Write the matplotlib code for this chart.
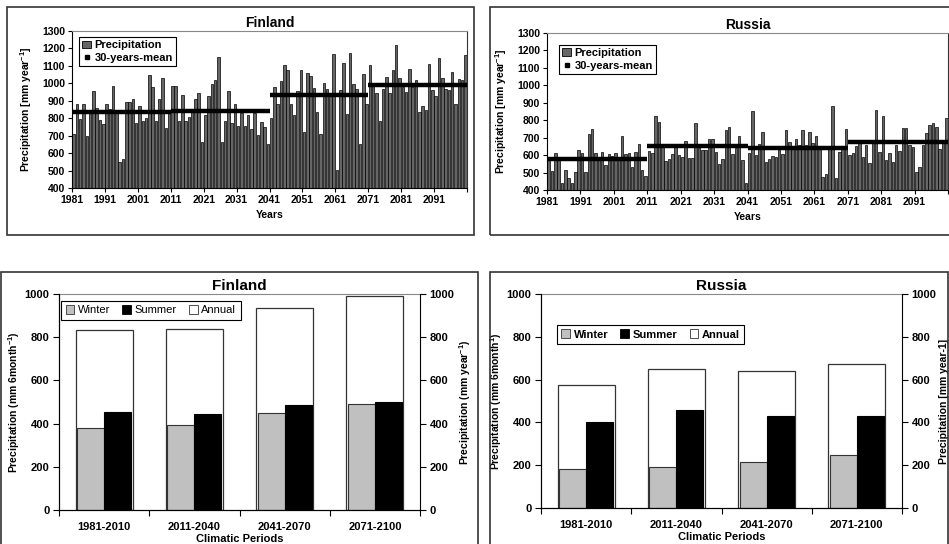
import matplotlib
matplotlib.use("Agg")
import matplotlib.pyplot as plt
import numpy as np
from matplotlib.lines import Line2D
from matplotlib.patches import Patch, Rectangle

plt.rcParams["font.family"] = ["Liberation Sans", "DejaVu Sans"]
plt.rcParams["mathtext.fontset"] = "custom"
plt.rcParams["mathtext.rm"] = "Liberation Sans:bold"
plt.rcParams["mathtext.bf"] = "Liberation Sans:bold"
plt.rcParams["mathtext.default"] = "rm"

years = np.arange(1981, 2101)
period_labels = ["1981-2010", "2011-2040", "2041-2070", "2071-2100"]
period_starts = [1981, 2011, 2041, 2071]

finland_precip = [
    710, 883, 793, 883, 700, 830, 958, 859, 792, 768,
    882, 853, 985, 830, 550, 567, 893, 893, 912, 772,
    872, 784, 801, 1047, 978, 782, 912, 1031, 744, 845,
    987, 983, 786, 932, 786, 805, 840, 910, 945, 663,
    820, 930, 997, 1018, 1152, 661, 786, 958, 772, 882,
    755, 830, 755, 820, 740, 830, 705, 780, 750, 650,
    802, 978, 880, 1013, 1107, 1074, 883, 816, 955, 1074,
    722, 1057, 1041, 974, 835, 710, 1003, 965, 927, 1170,
    505, 959, 1118, 822, 1176, 994, 969, 655, 1051, 883,
    1103, 988, 946, 783, 965, 1038, 946, 1074, 1218, 1032,
    978, 951, 1085, 980, 1017, 837, 869, 846, 1112, 959,
    927, 1146, 1032, 969, 959, 1067, 883, 1022, 1020, 1165,
]

russia_precip = [
    590, 510, 614, 575, 442, 515, 467, 438, 503, 630,
    614, 505, 720, 748, 614, 590, 620, 544, 607, 597,
    614, 575, 712, 607, 610, 530, 620, 662, 515, 480,
    626, 610, 827, 789, 664, 565, 578, 605, 665, 600,
    590, 680, 583, 585, 783, 640, 628, 628, 695, 690,
    620, 547, 576, 745, 764, 605, 640, 707, 572, 442,
    614, 854, 601, 662, 731, 559, 578, 597, 591, 630,
    605, 745, 674, 640, 691, 659, 745, 659, 731, 668,
    707, 645, 477, 492, 640, 883, 471, 620, 640, 749,
    601, 610, 650, 680, 591, 660, 553, 670, 860, 617,
    822, 572, 614, 563, 660, 624, 758, 758, 660, 649,
    505, 534, 660, 729, 774, 783, 760, 636, 680, 812,
]

finland_winter = [380, 395, 447, 490]
finland_summer = [455, 445, 487, 500]
finland_annual = [835, 840, 935, 990]

russia_winter = [182, 191, 213, 247]
russia_summer = [400, 459, 431, 428]
russia_annual = [575, 650, 642, 675]

fig = plt.figure(figsize=(9.49, 5.44), dpi=100)

# panel frames (figure pixels: x0, y0 from top, x1, y1)
for x0, y0, x1, y1 in [(7, 7, 474, 235), (490, 7, 952, 235), (1, 272, 478, 548), (490, 272, 948, 548)]:
    fig.patches.append(Rectangle((x0 / 949, 1 - y1 / 544), (x1 - x0) / 949, (y1 - y0) / 544,
                                 transform=fig.transFigure, fill=False, edgecolor="#333333",
                                 linewidth=1.2, zorder=0))


def yearly_panel(rect, title, values, means, legend_anchor):
    ax = fig.add_axes(rect)
    ax.bar(years + 0.5, values, width=0.75, color="#666666", edgecolor="black", linewidth=0.5)
    for start, m in zip(period_starts, means):
        ax.hlines(m, start, start + 30, color="black", linewidth=3.2, zorder=3)
    ax.set_xlim(1981, 2101)
    ax.set_ylim(400, 1300)
    ax.set_yticks(range(400, 1301, 100))
    ax.set_xticks(range(1981, 2102, 10))
    ax.set_xticklabels([str(y) for y in range(1981, 2092, 10)] + [""])
    ax.tick_params(labelsize=7.5, length=3, width=0.8, pad=2)
    for lab in ax.get_xticklabels() + ax.get_yticklabels():
        lab.set_fontweight("bold")
    ax.spines["top"].set_color("#888888")
    ax.spines["right"].set_color("#333333")
    ax.set_title(title, fontsize=10, fontweight="bold", pad=3)
    ax.set_xlabel("Years", fontsize=7.5, fontweight="bold", labelpad=4)
    ax.set_ylabel("Precipitation [mm year$^{-1}$]", fontsize=7.5, fontweight="bold", labelpad=6)
    handles = [Patch(facecolor="#666666", edgecolor="black", linewidth=0.6),
               Line2D([], [], color="black", marker="s", markersize=3.5, linestyle="none")]
    leg = ax.legend(handles, ["Precipitation", "30-years-mean"], loc="upper left",
                    bbox_to_anchor=legend_anchor, borderaxespad=0, fancybox=False,
                    edgecolor="black", framealpha=1, prop={"size": 8, "weight": "bold"},
                    handlelength=0.8, handletextpad=0.3, borderpad=0.3, labelspacing=0.25)
    leg.get_frame().set_linewidth(0.8)
    return ax


def period_panel(rect, title, winter, summer, annual, left_label, right_label, legend_anchor, bold_legend):
    ax = fig.add_axes(rect)
    x = np.arange(len(period_labels))
    ax.bar(x, annual, width=0.63, color="white", edgecolor="#333333", linewidth=0.9, zorder=1)
    ax.bar(x - 0.15, winter, width=0.3, color="#c0c0c0", edgecolor="#333333", linewidth=0.8, zorder=2)
    ax.bar(x + 0.15, summer, width=0.3, color="black", edgecolor="black", linewidth=0.8, zorder=2)
    ax.set_xlim(-0.5, 3.5)
    ax.set_ylim(0, 1000)
    ax.set_yticks(range(0, 1001, 200))
    ax.set_xticks(x)
    ax.set_xticklabels(period_labels)
    ax.set_xticks(np.arange(-0.5, 3.6, 1), minor=True)
    ax.tick_params(axis="x", which="major", length=0, labelsize=8, pad=9)
    ax.tick_params(axis="x", which="minor", length=4, width=0.8)
    ax.tick_params(axis="y", labelsize=8, length=4, width=0.8, pad=3)
    for lab in ax.get_xticklabels() + ax.get_yticklabels():
        lab.set_fontweight("bold")
    ax.spines["top"].set_color("#888888")
    ax.spines["right"].set_visible(False)
    ax.set_title(title, fontsize=11, fontweight="bold", pad=3)
    ax.set_xlabel("Climatic Periods", fontsize=8, fontweight="bold", labelpad=1)
    ax.set_ylabel(left_label, fontsize=7.5, fontweight="bold", labelpad=2)

    ax2 = ax.twinx()
    ax2.set_ylim(0, 1000)
    ax2.set_yticks(range(0, 1001, 200))
    ax2.tick_params(axis="y", labelsize=8, length=4, width=0.8, pad=3)
    for lab in ax2.get_yticklabels():
        lab.set_fontweight("bold")
    ax2.spines["top"].set_visible(False)
    ax2.set_ylabel(right_label, fontsize=7.5, fontweight="bold", labelpad=2)

    handles = [Patch(facecolor="#c0c0c0", edgecolor="#333333", linewidth=0.6),
               Patch(facecolor="black", edgecolor="black", linewidth=0.6),
               Patch(facecolor="white", edgecolor="#333333", linewidth=0.6)]
    leg = ax.legend(handles, ["Winter", "Summer", "Annual"], loc="upper left", ncol=3,
                    bbox_to_anchor=legend_anchor, borderaxespad=0, fancybox=False,
                    edgecolor="black", framealpha=1,
                    prop={"size": 8, "weight": "bold" if bold_legend else "normal"},
                    handlelength=0.8, handleheight=0.8, handletextpad=0.3,
                    columnspacing=1.1, borderpad=0.4)
    leg.get_frame().set_linewidth(0.8)
    return ax


yearly_panel([72 / 949, 1 - 188 / 544, 395 / 949, 157 / 544], "Finland",
             finland_precip, finland_annual, (0.018, 0.962))
yearly_panel([547 / 949, 1 - 190 / 544, 401 / 949, 157 / 544], "Russia",
             russia_precip, russia_annual, (0.03, 0.924))

period_panel([59 / 949, 1 - 510 / 544, 361 / 949, 216 / 544], "Finland",
             finland_winter, finland_summer, finland_annual,
             "Precipitation (mm 6month$^{-1}$)", "Precipitation (mm year$^{-1}$)",
             (0.006, 0.968), False)
period_panel([541 / 949, 1 - 508 / 544, 361 / 949, 214 / 544], "Russia",
             russia_winter, russia_summer, russia_annual,
             "Precipitation (mm 6month$^{1}$)", "Precipitation [mm year-1]",
             (0.044, 0.855), True)

fig.savefig("out.png", dpi=100)
